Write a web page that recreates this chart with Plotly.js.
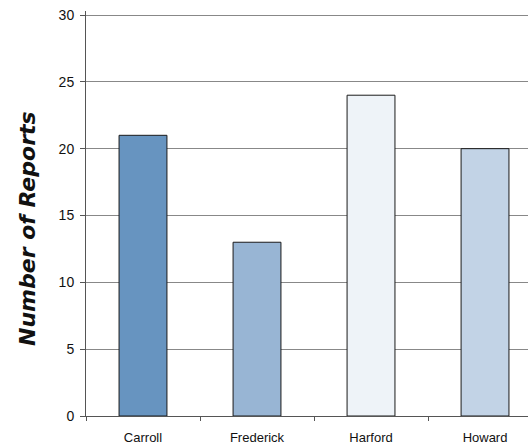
<!DOCTYPE html>
<html>
<head>
<meta charset="utf-8">
<script src="https://cdn.plot.ly/plotly-3.0.1.min.js"></script>
<style>html,body{margin:0;padding:0;background:#fff;}#chart{width:528px;height:447px;}</style>
</head>
<body>
<div id="chart"></div>
<script>
const categories = ["Carroll", "Frederick", "Harford", "Howard"];
const reports = [21, 13, 24, 20];
const barColors = ["#6794C0", "#98B5D4", "#EEF3F8", "#C2D3E6"];
const yTitle = "Number of Reports";

const W = 528, H = 447;
const m = {l: 86, r: 0, t: 11, b: 31};
const plotH = H - m.t - m.b;

const data = [{
  type: "bar",
  x: categories,
  y: reports,
  width: 0.42,
  marker: {color: barColors, line: {color: "#1a1a1a", width: 1}},
  hoverinfo: "x+y"
}];

const layout = {
  width: W, height: H,
  margin: m,
  paper_bgcolor: "#fff",
  plot_bgcolor: "#fff",
  showlegend: false,
  font: {family: "Liberation Sans, Arial, sans-serif", size: 13, color: "#111"},
  xaxis: {
    type: "category",
    range: [-0.5, 3.377],
    tickson: "boundaries",
    ticks: "outside",
    ticklen: 4,
    tickcolor: "#555",
    showgrid: false,
    showline: true,
    linecolor: "#555",
    linewidth: 1,
    ticklabelstandoff: 9,
    tickfont: {size: 13, color: "#111"},
    fixedrange: true
  },
  yaxis: {
    range: [0, 30.3],
    tickvals: [0, 5, 10, 15, 20, 25, 30],
    ticks: "outside",
    ticklen: 5,
    tickcolor: "#555",
    showgrid: true,
    gridcolor: "#888",
    gridwidth: 1,
    showline: true,
    linecolor: "#555",
    linewidth: 1,
    zeroline: false,
    ticklabelstandoff: 3,
    tickfont: {size: 14, color: "#111"},
    fixedrange: true
  },
  annotations: [{
    text: yTitle,
    xref: "paper", yref: "paper",
    x: (27 - m.l) / (W - m.l - m.r),
    y: 1 - (229 - m.t) / plotH,
    xanchor: "center", yanchor: "middle",
    textangle: -90,
    showarrow: false,
    font: {family: "DejaVu Sans, sans-serif", size: 22, color: "#111", weight: 900, style: "italic"}
  }]
};

Plotly.newPlot("chart", data, layout, {displayModeBar: false, staticPlot: true});
</script>
</body>
</html>
